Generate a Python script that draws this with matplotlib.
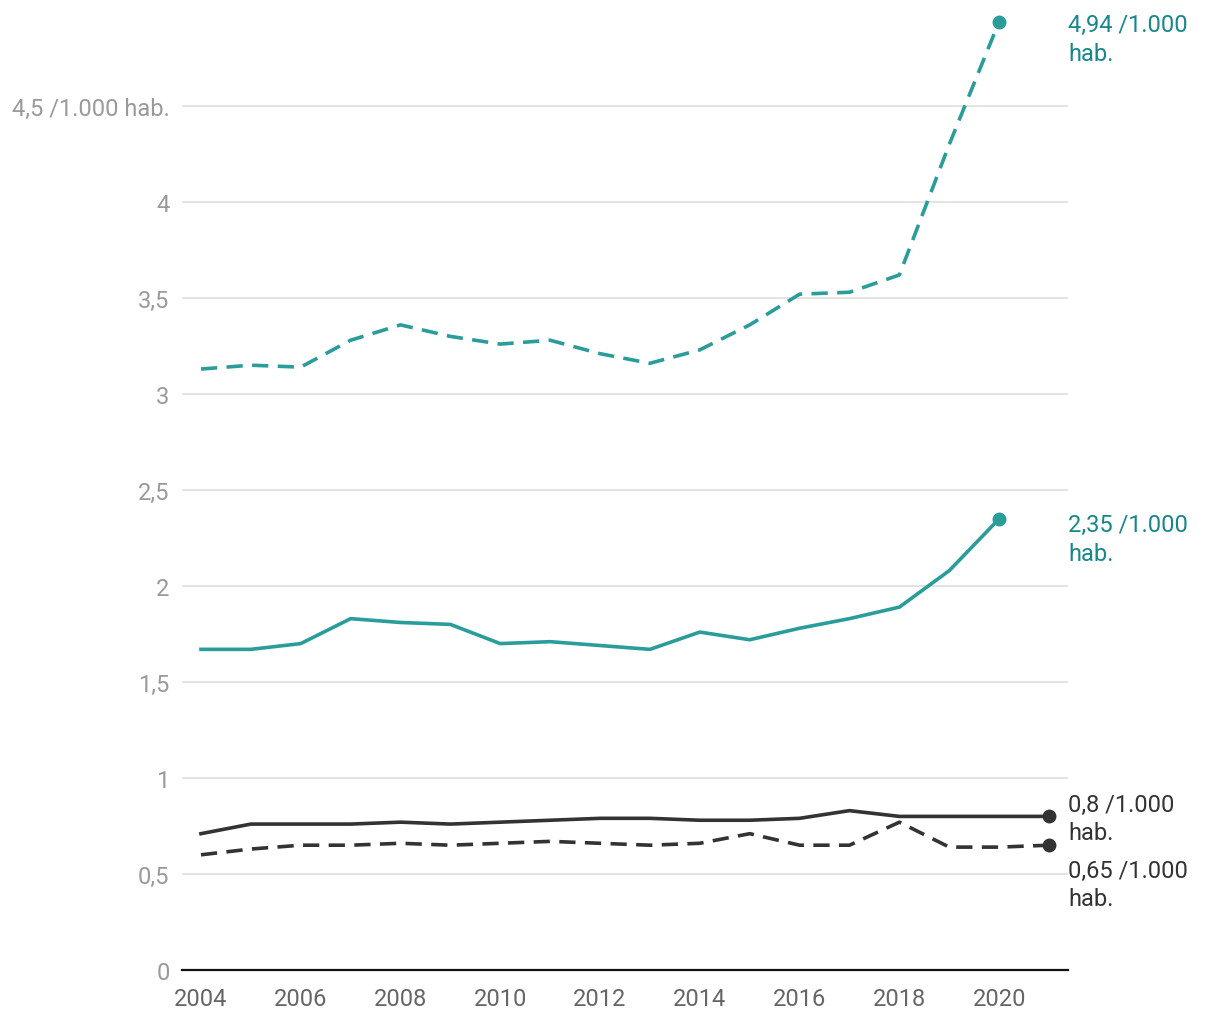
import matplotlib.pyplot as plt
import numpy as np

plt.rcParams['font.family'] = ['Roboto', 'DejaVu Sans']

# data
years = np.arange(2004, 2022)
teal_dash = [3.13, 3.15, 3.14, 3.28, 3.36, 3.30, 3.26, 3.28, 3.21, 3.16,
             3.23, 3.36, 3.52, 3.53, 3.62, 4.30, 4.94]
teal_solid = [1.67, 1.67, 1.70, 1.83, 1.81, 1.80, 1.70, 1.71, 1.69, 1.67,
              1.76, 1.72, 1.78, 1.83, 1.89, 2.08, 2.35]
dark_solid = [0.71, 0.76, 0.76, 0.76, 0.77, 0.76, 0.77, 0.78, 0.79, 0.79,
              0.78, 0.78, 0.79, 0.83, 0.80, 0.80, 0.80, 0.80]
dark_dash = [0.60, 0.63, 0.65, 0.65, 0.66, 0.65, 0.66, 0.67, 0.66, 0.65,
             0.66, 0.71, 0.65, 0.65, 0.77, 0.64, 0.64, 0.65]
yticks = [0, 0.5, 1, 1.5, 2, 2.5, 3, 3.5, 4, 4.5]
ylabels = ['0', '0,5', '1', '1,5', '2', '2,5', '3', '3,5', '4', '4,5 /1.000 hab.']
xticks = list(range(2004, 2021, 2))

teal = '#2a9d9b'
teal_txt = '#17878a'
dark = '#333333'

fig = plt.figure(figsize=(12.2, 10.2), dpi=100)
ax = fig.add_axes([182/1220, 49/1020, 886/1220, 960/1020])

lw = 2.6
dash = (4.5, 2.6)
ax.plot(years[:17], teal_dash, color=teal, lw=lw, dashes=dash, zorder=3)
ax.plot(years[:17], teal_solid, color=teal, lw=lw, zorder=3)
ax.plot(years, dark_solid, color=dark, lw=lw, zorder=3)
ax.plot(years, dark_dash, color=dark, lw=lw, dashes=dash, zorder=3)

ax.plot([years[16]], [teal_dash[-1]], 'o', color=teal, ms=9, zorder=4)
ax.plot([years[16]], [teal_solid[-1]], 'o', color=teal, ms=9, zorder=4)
ax.plot([years[17]], [dark_solid[-1]], 'o', color=dark, ms=9, zorder=4)
ax.plot([years[17]], [dark_dash[-1]], 'o', color=dark, ms=9, zorder=4)

ax.set_xlim(2003.62, 2021.38)
ax.set_ylim(0, 5)
ax.set_yticks(yticks)
ax.set_yticklabels(ylabels)
ax.set_xticks(xticks)
ax.tick_params(axis='y', length=0, pad=9, labelsize=17, labelcolor='#9a9a9a')
ax.tick_params(axis='x', length=0, pad=12, labelsize=17, labelcolor='#666666')
ax.grid(axis='y', color='#e3e3e3', lw=1.4)
ax.set_axisbelow(True)
for s in ['top', 'right', 'left']:
    ax.spines[s].set_visible(False)
ax.spines['bottom'].set_color('#111111')
ax.spines['bottom'].set_linewidth(1.6)

# end labels
def end_label(y, text, color, dy):
    ax.annotate(text, xy=(1.0, y), xycoords=('axes fraction', 'data'),
                xytext=(0, dy), textcoords='offset points',
                ha='left', va='top', fontsize=17, color=color, linespacing=1.3)

end_label(teal_dash[-1], '4,94 /1.000\nhab.', teal_txt, 6)
end_label(teal_solid[-1], '2,35 /1.000\nhab.', teal_txt, 4)
end_label(dark_solid[-1], '0,8 /1.000\nhab.', dark, 17)
end_label(dark_dash[-1], '0,65 /1.000\nhab.', dark, -10)

fig.savefig('out.png', dpi=100)
